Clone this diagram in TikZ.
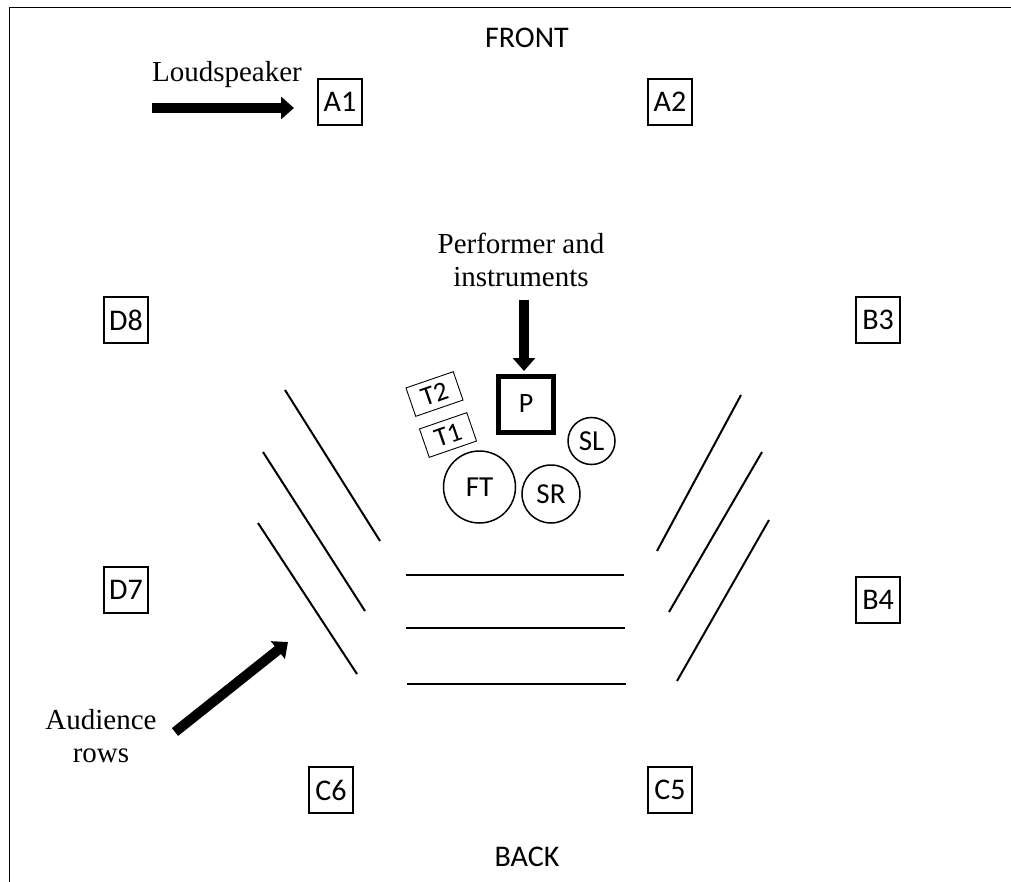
\documentclass[tikz,border=0pt]{standalone}
\usepackage{fontspec}
\setmainfont{Liberation Serif}
\newfontfamily\labelfont{Carlito}
\usetikzlibrary{arrows.meta}
\begin{document}
\begin{tikzpicture}[x=1pt,y=-1pt,
  spk/.style={draw,line width=1.2pt,minimum width=44pt,minimum height=46pt,inner sep=0pt,font=\labelfont\fontsize{30}{33}\selectfont},
  tbox/.style={draw,line width=0.9pt,minimum width=50pt,minimum height=30pt,inner sep=0pt,rotate=19,font=\labelfont\fontsize{27}{29}\selectfont},
  inst/.style={draw,circle,line width=1.5pt,inner sep=0pt,font=\labelfont\fontsize{29}{32}\selectfont},
  side/.style={font=\labelfont\fontsize{30}{33}\selectfont},
  serif/.style={font=\fontsize{29}{33}\selectfont,align=center,inner sep=0pt},
  row/.style={line width=2pt},
  bigarrow/.style={line width=10pt,-{Triangle[length=13pt,width=22pt]}}]
\useasboundingbox (0,0) rectangle (1011,882);
\fill[white] (0,0) rectangle (1011,882);
\draw[line width=1pt] (1011,8) -- (9,8) -- (9,882);

\node[side] (front) at (527,38) {FRONT};
\node[side] (back) at (527,857) {BACK};

\node[spk] (A1) at (340,102) {A1};
\node[spk] (A2) at (670,102) {A2};
\node[spk] (D8) at (126,320) {D8};
\node[spk] (B3) at (878,320) {B3};
\node[spk] (D7) at (126,590) {D7};
\node[spk] (B4) at (878,600) {B4};
\node[spk] (C6) at (331,790) {C6};
\node[spk] (C5) at (670,790) {C5};

\node[serif] (lsp) at (227,75) {Loudspeaker};
\coordinate (lspTail) at (152,108);
\coordinate (lspTip) at (294,108);
\draw[bigarrow] (lspTail) -- (lspTip);

\node[serif] (perf) at (521,260) {Performer and\\instruments};
\coordinate (perfTail) at (524,300);
\coordinate (perfTip) at (524,371);
\draw[bigarrow] (perfTail) -- (perfTip);

\node[draw,line width=5pt,minimum width=55pt,minimum height=56pt,inner sep=0pt,font=\labelfont\fontsize{28}{30}\selectfont] (P) at (526,404) {P};
\node[tbox] (T2) at (434.5,394) {T2};
\node[tbox] (T1) at (448,435) {T1};
\node[inst,minimum size=72pt] (FT) at (479.5,487) {FT};
\node[inst,minimum size=58pt] (SR) at (551,494) {SR};
\node[inst,minimum size=47pt] (SL) at (591.5,441) {SL};

\node[serif] (aud) at (101,736) {Audience\\rows};
\coordinate (audTail) at (175,732);
\coordinate (audTip) at (288,642);
\draw[bigarrow] (audTail) -- (audTip);

% audience rows
\coordinate (l1a) at (285,390); \coordinate (l1b) at (380,541);
\coordinate (l2a) at (263,452); \coordinate (l2b) at (365,611);
\coordinate (l3a) at (258,523); \coordinate (l3b) at (357,674);
\draw[row] (l1a) -- (l1b);
\draw[row] (l2a) -- (l2b);
\draw[row] (l3a) -- (l3b);
\coordinate (r1a) at (741,395); \coordinate (r1b) at (657,551);
\coordinate (r2a) at (762,452); \coordinate (r2b) at (669,612);
\coordinate (r3a) at (769,520); \coordinate (r3b) at (677,681);
\draw[row] (r1a) -- (r1b);
\draw[row] (r2a) -- (r2b);
\draw[row] (r3a) -- (r3b);
\coordinate (h1a) at (406,575); \coordinate (h1b) at (624,575);
\coordinate (h2a) at (406,628); \coordinate (h2b) at (625,628);
\coordinate (h3a) at (407,684); \coordinate (h3b) at (626,684);
\draw[row] (h1a) -- (h1b);
\draw[row] (h2a) -- (h2b);
\draw[row] (h3a) -- (h3b);
\end{tikzpicture}
\end{document}
